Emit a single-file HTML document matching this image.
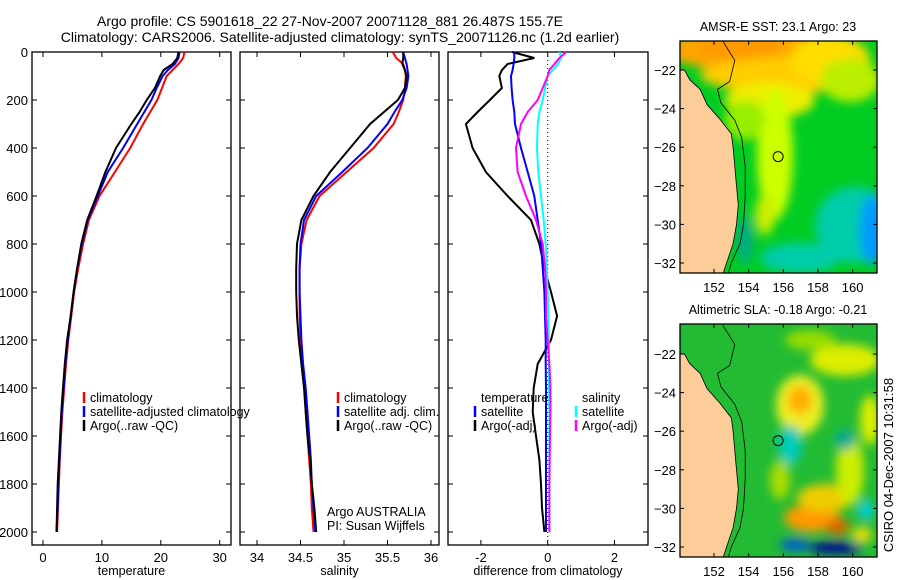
<!DOCTYPE html>
<html><head><meta charset="utf-8"><style>
html,body{margin:0;padding:0;background:#fff;}
svg{display:block;font-family:"Liberation Sans",sans-serif;}
</style></head><body>
<svg id="fig" width="900" height="580" viewBox="0 0 900 580" xmlns="http://www.w3.org/2000/svg">
<defs>
<filter id="blur" x="-30%" y="-30%" width="160%" height="160%"><feGaussianBlur stdDeviation="5"/></filter>
<clipPath id="clip1"><rect x="680" y="41" width="197" height="232"/></clipPath>
<clipPath id="clip2"><rect x="680" y="324" width="197" height="233"/></clipPath>
</defs>
<text x="330" y="26" font-size="14" text-anchor="middle">Argo profile: CS 5901618_22 27-Nov-2007 20071128_881 26.487S 155.7E</text>
<text x="340" y="42" font-size="14" text-anchor="middle">Climatology: CARS2006. Satellite-adjusted climatology: synTS_20071126.nc (1.2d earlier)</text>
<g id="g"></g>
</svg>
<script>
const depths=[0,25,50,75,100,150,200,250,300,400,500,600,700,800,900,1000,1100,1200,1300,1400,1500,1600,1700,1800,1900,2000];
const tempClim=[24,23.8,23,22,21,20.2,19.4,18.2,17,14.8,12.2,9.6,7.8,6.8,6,5.3,4.8,4.3,3.9,3.6,3.3,3.05,2.85,2.7,2.55,2.4];
const tempSat=[23.2,23,22.4,21.2,20.3,19.3,18.4,17.2,16,13.6,11,9.3,7.6,6.6,5.8,5.2,4.7,4.2,3.8,3.5,3.2,3,2.8,2.6,2.5,2.3];
const tempArgo=[23,22.8,22,20.5,19.9,19,17.6,16.4,15,12.4,10.6,9.1,7.5,6.5,5.8,5.2,4.7,4.1,3.7,3.4,3.1,2.9,2.7,2.5,2.4,2.3];
const salClim=[35.56,35.6,35.68,35.7,35.71,35.7,35.68,35.63,35.57,35.34,35.03,34.72,34.57,34.51,34.49,34.49,34.49,34.5,34.52,34.55,34.56,34.58,34.6,34.62,34.63,34.65];
const salSat=[35.68,35.7,35.72,35.73,35.74,35.72,35.67,35.58,35.5,35.27,34.98,34.68,34.54,34.5,34.49,34.49,34.5,34.51,34.53,34.56,34.58,34.6,34.62,34.63,34.65,34.67];
const salArgo=[35.68,35.68,35.67,35.7,35.72,35.7,35.62,35.46,35.3,35.07,34.84,34.65,34.51,34.46,34.45,34.45,34.46,34.48,34.51,34.54,34.56,34.58,34.61,34.63,34.66,34.68];
const dTempSat=[-1.0,-1.0,-1.02,-1.05,-1.1,-1.08,-1.05,-1.0,-0.98,-0.8,-0.6,-0.4,-0.3,-0.2,-0.15,-0.1,-0.08,-0.06,-0.06,-0.05,-0.05,-0.05,-0.05,-0.05,-0.05,-0.05];
const dTempArgo=[-1.07,-0.4,-1.2,-1.37,-1.45,-1.37,-1.73,-2.1,-2.45,-2.25,-1.85,-1.2,-0.5,-0.25,-0.1,0.1,0.28,0.1,-0.3,-0.42,-0.45,-0.35,-0.25,-0.2,-0.17,-0.1];
const dSalSat=[0.35,0.4,0.3,0.15,0.0,-0.08,-0.15,-0.25,-0.3,-0.32,-0.28,-0.2,-0.12,-0.06,-0.03,0,0.02,0.03,0.04,0.04,0.05,0.05,0.05,0.05,0.05,0.05];
const dSalArgo=[0.55,0.35,0.2,0.05,0,-0.15,-0.3,-0.6,-0.8,-0.95,-0.9,-0.65,-0.35,-0.15,-0.08,-0.05,-0.05,0.0,0.05,0.08,0.08,0.07,0.06,0.05,0.05,0.05];
const depthTicks=[0,200,400,600,800,1000,1200,1400,1600,1800,2000];
const tempTicks=[0,10,20,30];
const salTicks=[34,34.5,35,35.5,36];
const salTickLabels=["34","34.5","35","35.5","36"];
const diffTicks=[-2,0,2];
const lonTicks=[152,154,156,158,160];
const latTicks=[-22,-24,-26,-28,-30,-32];
const coastLon=[150.3,150.6,151.2,151.6,152.3,153.0,153.1,153.2,153.3,153.4,153.3,153.1,152.8,152.5];
const coastLat=[-22.0,-22.5,-23.0,-23.8,-24.5,-25.3,-26.0,-27.0,-28.0,-29.0,-30.0,-31.0,-31.8,-32.6];
const shelfLon=[152.5,153.2,152.9,152.2,152.4,153.2,153.6,153.8,153.8,153.7,153.5,153.0,152.8];
const shelfLat=[-20.5,-21.5,-22.6,-23.0,-23.7,-24.6,-25.5,-27.0,-28.5,-30.0,-31.0,-32.0,-32.6];

const NS="http://www.w3.org/2000/svg";
const G=document.getElementById('g');
function mk(tag,attrs,parent,text){const e=document.createElementNS(NS,tag);for(const k in attrs)e.setAttribute(k,attrs[k]);if(text!==undefined)e.textContent=text;(parent||G).appendChild(e);return e;}
const Y=d=>52+d*0.24;
const PT=52, PB=545;
const panels=[
 {x0:32,x1:231,xs:v=>43+v*5.89,ticks:tempTicks,labs:tempTicks.map(String),title:"temperature",name:"temperature-panel"},
 {x0:240,x1:439,xs:v=>257+(v-34)*87,ticks:salTicks,labs:salTickLabels,title:"salinity",name:"salinity-panel"},
 {x0:448,x1:648,xs:v=>547.7+v*33.4,ticks:diffTicks,labs:diffTicks.map(String),title:"difference from climatology",name:"difference-panel"}
];
panels.forEach((p,i)=>{
 const g=mk('g',{});
 
 
 mk('rect',{x:p.x0,y:PT,width:p.x1-p.x0,height:PB-PT,fill:'none',stroke:'#000','stroke-width':1.3},g);
 depthTicks.forEach(d=>{
  const y=Y(d);
  mk('line',{x1:p.x0,x2:p.x0+5,y1:y,y2:y,stroke:'#000'},g);
  mk('line',{x1:p.x1,x2:p.x1-5,y1:y,y2:y,stroke:'#000'},g);
  if(i===0){const t=mk('text',{x:p.x0-4,y:y+5,'font-size':13,'text-anchor':'end'},g,String(d));
   
   }
 });
 p.ticks.forEach((v,j)=>{
  const x=p.xs(v);
  mk('line',{x1:x,x2:x,y1:PB,y2:PB-5,stroke:'#000'},g);
  mk('line',{x1:x,x2:x,y1:PT,y2:PT+5,stroke:'#000'},g);
  const t=mk('text',{x:x,y:PB+17,'font-size':13,'text-anchor':'middle'},g,p.labs[j]);
  
  
 });
 const at=mk('text',{x:(p.x0+p.x1)/2,y:575,'font-size':12.5,'text-anchor':'middle'},g,p.title);
 
 
});
function line(xs,vals,color,name,w){
 const pts=depths.map((d,k)=>xs(vals[k]).toFixed(1)+','+Y(d).toFixed(1)).join(' ');
 const pl=mk('polyline',{points:pts,fill:'none',stroke:color,'stroke-width':w||2});
 
 
}
mk('line',{x1:547.7,x2:547.7,y1:52,y2:545,stroke:'#000','stroke-dasharray':'1,3'});
line(panels[0].xs,tempClim,'#f00','temp-climatology-line');
line(panels[0].xs,tempSat,'#00f','temp-satellite-line');
line(panels[0].xs,tempArgo,'#000','temp-argo-line');
line(panels[1].xs,salClim,'#f00','sal-climatology-line');
line(panels[1].xs,salSat,'#00f','sal-satellite-line');
line(panels[1].xs,salArgo,'#000','sal-argo-line');
line(panels[2].xs,dTempArgo,'#000','dtemp-argo-line');
line(panels[2].xs,dTempSat,'#00f','dtemp-satellite-line');
line(panels[2].xs,dSalSat,'#0ff','dsal-satellite-line');
line(panels[2].xs,dSalArgo,'#f0f','dsal-argo-line');
function legend(x,y,color,label,name){
 const g=mk('g',{});
 
 
 if(color)mk('line',{x1:x-6,x2:x-6,y1:y-10,y2:y+1,stroke:color,'stroke-width':2.5},g);
 mk('text',{x:x,y:y,'font-size':12.5},g,label);
}
legend(90,402,'#f00','climatology','legend-climatology');
legend(90,416,'#00f','satellite-adjusted climatology','legend-satellite');
legend(90,430,'#000','Argo(..raw -QC)','legend-argo');
legend(344,402,'#f00','climatology','legend-sal-climatology');
legend(344,416,'#00f','satellite adj. clim.','legend-sal-satellite');
legend(344,430,'#000','Argo(..raw -QC)','legend-sal-argo');
legend(481,402,null,'temperature','legend-temp-header');
legend(481,416,'#00f','satellite','legend-dtemp-satellite');
legend(481,430,'#000','Argo(-adj)','legend-dtemp-argo');
legend(582,402,null,'salinity','legend-sal-header');
legend(582,416,'#0ff','satellite','legend-dsal-satellite');
legend(582,430,'#f0f','Argo(-adj)','legend-dsal-argo');
legend(327,516,null,'Argo AUSTRALIA','credit-argo-australia');
legend(327,530,null,'PI: Susan Wijffels','credit-pi');

const maps=[
 {y0:41,y1:273,lat22:70,title:'AMSR-E SST: 23.1 Argo: 23',clip:'clip1',bg:'#00cc22',name:'sst-map',
  blobs:[[760,50,95,22,'#ffa500'],[740,45,40,14,'#ff9900'],[790,75,90,18,'#ffcc00'],[830,60,40,25,'#ffdd00'],[770,100,45,18,'#eeee00'],[775,155,18,65,'#ccff00'],[745,120,20,20,'#99ee00'],[850,80,30,22,'#bbee00'],[855,225,40,38,'#00ccaa'],[872,230,12,35,'#0099ff'],[800,258,40,15,'#00ccaa'],[765,215,10,20,'#ccee00'],[745,240,8,25,'#00aa88']]},
 {y0:324,y1:557,lat22:354,title:'Altimetric SLA: -0.18 Argo: -0.21',clip:'clip2',bg:'#22bb33',name:'sla-map',
  blobs:[[800,405,24,30,'#eeee22'],[800,400,12,14,'#ffaa00'],[790,445,12,20,'#00ccbb'],[845,360,35,16,'#ddee00'],[810,340,25,10,'#99dd00'],[812,518,28,14,'#ff9900'],[838,527,12,8,'#dd6600'],[825,498,28,14,'#eecc00'],[835,548,28,6,'#000099'],[795,545,15,6,'#0055dd'],[850,470,14,35,'#ccee00'],[870,420,10,25,'#ddee00'],[845,440,10,10,'#00aa99'],[862,535,10,8,'#eedd00'],[866,510,8,10,'#00ccdd'],[780,480,10,20,'#aadd00']]}
];
const LX=v=>714+(v-152)*17.33;
maps.forEach(m=>{
 const LY=v=>m.lat22+(-22-v)*19.3;
 const g=mk('g',{});
 
 
 const inner=mk('g',{'clip-path':'url(#'+m.clip+')'},g);
 mk('rect',{x:680,y:m.y0,width:197,height:m.y1-m.y0,fill:m.bg},inner);
 const bl=mk('g',{filter:'url(#blur)'},inner);
 m.blobs.forEach(b=>mk('ellipse',{cx:b[0],cy:b[1],rx:b[2],ry:b[3],fill:b[4]},bl));
 let pts='680,'+(m.y1+5)+' 680,'+LY(-22).toFixed(1)+' ';
 pts+=coastLon.map((lo,k)=>LX(lo).toFixed(1)+','+LY(coastLat[k]).toFixed(1)).join(' ');
 const land=mk('polygon',{points:pts,fill:'#fccc99',stroke:'#000','stroke-width':0.8},inner);
 
 
 const shelf=shelfLon.map((lo,k)=>LX(lo).toFixed(1)+','+LY(shelfLat[k]).toFixed(1)).join(' ');
 mk('polyline',{points:shelf,fill:'none',stroke:'#000','stroke-width':0.8},inner);
 mk('rect',{x:680,y:m.y0,width:197,height:m.y1-m.y0,fill:'none',stroke:'#000','stroke-width':1.3},g);
 const c=mk('circle',{cx:LX(155.7),cy:LY(-26.487),r:5,fill:'none',stroke:'#000','stroke-width':1},g);
 
 
 lonTicks.forEach(v=>{const x=LX(v);
  mk('line',{x1:x,x2:x,y1:m.y1,y2:m.y1-4,stroke:'#000'},g);
  mk('line',{x1:x,x2:x,y1:m.y0,y2:m.y0+4,stroke:'#000'},g);
  const t=mk('text',{x:x,y:m.y1+19,'font-size':13,'text-anchor':'middle'},g,String(v));
  
  });
 latTicks.forEach(v=>{const y=LY(v);
  mk('line',{x1:680,x2:684,y1:y,y2:y,stroke:'#000'},g);
  mk('line',{x1:877,x2:873,y1:y,y2:y,stroke:'#000'},g);
  const t=mk('text',{x:676,y:y+5,'font-size':13,'text-anchor':'end'},g,String(v).replace('-','\u2212'));
  
  });
 const t=mk('text',{x:778,y:m.y0-10,'font-size':12.5,'text-anchor':'middle'},g,m.title);
 
 
});
const st=mk('text',{x:0,y:0,'font-size':13,'text-anchor':'middle',transform:'translate(893,465) rotate(-90)'},null,'CSIRO 04-Dec-2007 10:31:58');


</script>
</body></html>
